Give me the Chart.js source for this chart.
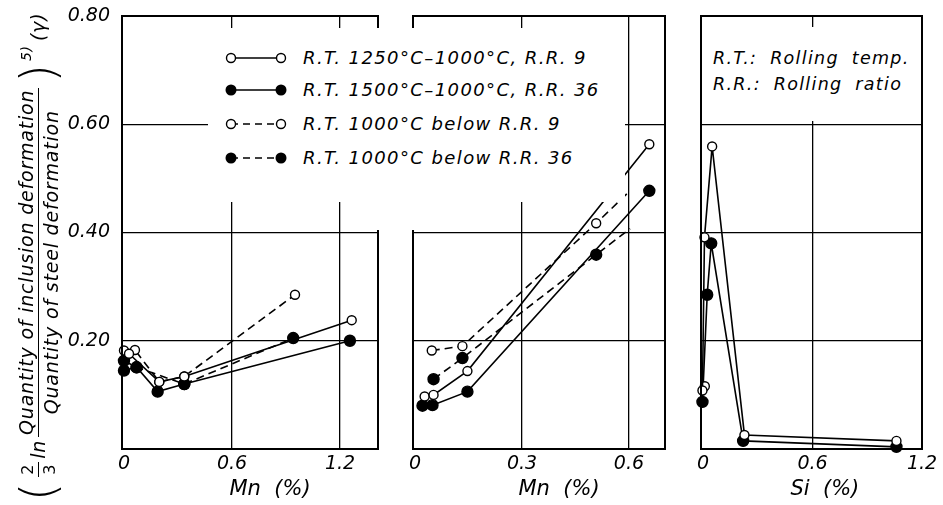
<!DOCTYPE html>
<html>
<head>
<meta charset="utf-8">
<script src="https://cdn.jsdelivr.net/npm/chart.js@4.4.0/dist/chart.umd.min.js"></script>
<style>
body{margin:0;background:#fff;}
#wrap{position:relative;width:943px;height:505px;overflow:hidden;font-family:"DejaVu Sans";font-style:italic;color:#000;}
.pane{position:absolute;top:0;}
.mask{position:absolute;background:#fff;}
.row{position:absolute;height:24px;line-height:24px;white-space:nowrap;font-size:18px;}
.row svg{position:absolute;left:0;top:5px;}
.row span{position:absolute;left:78px;top:0;letter-spacing:1.4px;}
.note{position:absolute;left:10px;font-size:17.5px;letter-spacing:1.3px;word-spacing:6px;white-space:nowrap;}
#ytitle{position:absolute;left:-212px;top:229px;width:500px;height:58px;transform:rotate(-90deg);
  display:flex;align-items:center;justify-content:center;font-size:19px;white-space:nowrap;letter-spacing:0.8px;}
#ytitle .big{font-size:48px;font-style:normal;font-weight:200;line-height:48px;margin:0 2px;}
.frac{display:inline-flex;flex-direction:column;align-items:center;margin:0 3px;}
.frac span:first-child{border-bottom:1.5px solid #000;padding:0 2px 1px;}
.frac span:last-child{padding-top:1px;}
.frac.small{font-size:16px;font-style:normal;}
#ytitle sup{font-size:14px;position:relative;top:-12px;margin-right:4px;}
</style>
</head>
<body>
<div id="wrap">
  <div class="pane" style="left:0px"><canvas id="c1" width="395" height="505"></canvas></div>
  <div class="pane" style="left:395px"><canvas id="c2" width="290" height="505"></canvas></div>
  <div class="pane" style="left:685px"><canvas id="c3" width="258" height="505"></canvas></div>

  <div class="mask" style="left:372px;top:28px;width:48px;height:202px;"></div>
  <div class="mask" style="left:208px;top:28px;width:417px;height:174px;">
    <div class="row" style="left:17px;top:18px;"><svg width="64" height="14"><line x1="6" y1="7" x2="56" y2="7" stroke="#000" stroke-width="1.6"/><circle cx="6" cy="7" r="4.5" fill="#fff" stroke="#000" stroke-width="1.4"/><circle cx="56" cy="7" r="4.5" fill="#fff" stroke="#000" stroke-width="1.4"/></svg><span>R.T. 1250°C–1000°C, R.R. 9</span></div>
    <div class="row" style="left:17px;top:50px;"><svg width="64" height="14"><line x1="6" y1="7" x2="56" y2="7" stroke="#000" stroke-width="1.6"/><circle cx="6" cy="7" r="5.5" fill="#000"/><circle cx="56" cy="7" r="5.5" fill="#000"/></svg><span>R.T. 1500°C–1000°C, R.R. 36</span></div>
    <div class="row" style="left:17px;top:84px;"><svg width="64" height="14"><line x1="6" y1="7" x2="56" y2="7" stroke="#000" stroke-width="1.6" stroke-dasharray="7,5"/><circle cx="6" cy="7" r="4.5" fill="#fff" stroke="#000" stroke-width="1.4"/><circle cx="56" cy="7" r="4.5" fill="#fff" stroke="#000" stroke-width="1.4"/></svg><span>R.T. 1000°C below R.R. 9</span></div>
    <div class="row" style="left:17px;top:118px;"><svg width="64" height="14"><line x1="6" y1="7" x2="56" y2="7" stroke="#000" stroke-width="1.6" stroke-dasharray="7,5"/><circle cx="6" cy="7" r="5.5" fill="#000"/><circle cx="56" cy="7" r="5.5" fill="#000"/></svg><span>R.T. 1000°C below R.R. 36</span></div>
  </div>

  <div class="mask" style="left:703px;top:27px;width:217px;height:94px;">
    <div class="note" style="top:21px;">R.T.: Rolling temp.</div>
    <div class="note" style="top:47px;">R.R.: Rolling ratio</div>
  </div>

  <div id="ytitle">
    <span class="big">(</span>
    <span class="frac small"><span>2</span><span>3</span></span>
    <span>ln</span>
    <span class="frac"><span>Quantity of inclusion deformation</span><span>Quantity of steel deformation</span></span>
    <span class="big">)</span><sup>5)</sup><span>(γ)</span>
  </div>
</div>

<script>
var yTicks=[0.2,0.4,0.6,0.8];
var p1Ticks=[0,0.6,1.2];
var p2Ticks=[0,0.3,0.6];
var p3Ticks=[0,0.6,1.2];

// left panel, Mn (%)
var p1OpenSolidX=[0.028,0.196,0.335,1.265];
var p1OpenSolidY=[0.176,0.124,0.134,0.238];
var p1FullSolidX=[0,0.07,0.187,0.335,1.255];
var p1FullSolidY=[0.145,0.151,0.106,0.12,0.2];
var p1OpenDashX=[0,0.061,0.196,0.335,0.95];
var p1OpenDashY=[0.182,0.183,0.124,0.134,0.285];
var p1FullDashX=[0,0.07,0.335,0.94];
var p1FullDashY=[0.163,0.151,0.12,0.205];

// middle panel, Mn (%)
var p2OpenSolidX=[0.027,0.052,0.147,0.657];
var p2OpenSolidY=[0.097,0.1,0.144,0.563];
var p2FullSolidX=[0.021,0.049,0.147,0.657];
var p2FullSolidY=[0.08,0.081,0.106,0.477];
var p2OpenDashX=[0.047,0.133,0.508,0.603];
var p2OpenDashY=[0.182,0.19,0.417,0.477];
var p2FullDashX=[0.052,0.133,0.508,0.603];
var p2FullDashY=[0.129,0.168,0.359,0.407];

// right panel, Si (%)
var p3OpenSolidX=[-0.003,0.008,0.05,0.227,1.06];
var p3OpenSolidY=[0.108,0.391,0.559,0.026,0.015];
var p3OpenExtraX=[0.01];
var p3OpenExtraY=[0.116];
var p3FullSolidX=[-0.003,0.023,0.045,0.22,1.06];
var p3FullSolidY=[0.087,0.285,0.38,0.015,0.004];

function pts(xs,ys){
  return xs.map(function(x,i){return {x:x,y:ys[i]};});
}

function series(xs,ys,filled,dashed,bareEnd){
  var last=xs.length-1;
  return {
    data:pts(xs,ys),
    showLine:true,
    borderColor:'#000',
    borderWidth:1.6,
    borderDash:dashed?[8,5]:[],
    pointRadius:function(c){return bareEnd&&c.dataIndex===last?0:(filled?5.5:4.5);},
    pointBackgroundColor:filled?'#000':'#fff',
    pointBorderColor:'#000',
    pointBorderWidth:1.4,
    clip:false
  };
}

var frame={
  id:'frame',
  afterDraw:function(chart){
    var a=chart.chartArea, ctx=chart.ctx;
    ctx.save();
    ctx.strokeStyle='#000';
    ctx.lineWidth=2;
    ctx.strokeRect(a.left,a.top,a.right-a.left,a.bottom-a.top);
    ctx.restore();
  }
};

var tickFont={family:'DejaVu Sans',style:'italic',size:19};
var titleFont={family:'DejaVu Sans',style:'italic',size:21};

function panel(id,xMin,xMax,xTicks,xTitle,datasets,padL,padR,showY){
  new Chart(document.getElementById(id),{
    type:'scatter',
    data:{datasets:datasets},
    plugins:[frame],
    options:{
      responsive:false,
      animation:false,
      layout:{padding:{top:16,right:padR,left:0,bottom:0}},
      plugins:{legend:{display:false},tooltip:{enabled:false}},
      scales:{
        x:{
          type:'linear',min:xMin,max:xMax,
          afterBuildTicks:function(s){s.ticks=xTicks.map(function(v){return {value:v};});},
          afterFit:function(s){s.height=56;s.paddingLeft=0;s.paddingRight=0;},
          grid:{color:function(c){return c.tick&&c.tick.value===0?'rgba(0,0,0,0)':'#000';},lineWidth:1.3,drawTicks:false},
          border:{display:true,color:'#000',width:2},
          ticks:{color:'#000',font:tickFont,padding:4,maxRotation:0,callback:function(v){return String(v);}},
          title:{display:true,text:xTitle,color:'#000',font:titleFont,padding:{top:0,bottom:3}}
        },
        y:{
          type:'linear',min:0,max:0.8,
          afterBuildTicks:function(s){s.ticks=yTicks.map(function(v){return {value:v};});},
          afterFit:function(s){s.width=padL;s.paddingTop=0;s.paddingBottom=0;},
          grid:{color:'#000',lineWidth:1.3,drawTicks:false},
          border:{display:true,color:'#000',width:2},
          ticks:{display:showY,color:'#000',font:tickFont,padding:12,callback:function(v){return v.toFixed(2);}}
        }
      }
    }
  });
}

panel('c1',-0.011,1.411,p1Ticks,'      Mn  (%)',[
  series(p1OpenSolidX,p1OpenSolidY,false,false),
  series(p1FullSolidX,p1FullSolidY,true,false),
  series(p1OpenDashX,p1OpenDashY,false,true),
  series(p1FullDashX,p1FullDashY,true,true)
],122,17,true);

panel('c2',-0.0056,0.701,p2Ticks,'      Mn  (%)',[
  series(p2OpenSolidX,p2OpenSolidY,false,false),
  series(p2FullSolidX,p2FullSolidY,true,false),
  series(p2OpenDashX,p2OpenDashY,false,true,true),
  series(p2FullDashX,p2FullDashY,true,true,true)
],18,20,false);

panel('c3',-0.011,1.2,p3Ticks,'    Si  (%)',[
  series(p3OpenSolidX,p3OpenSolidY,false,false),
  series(p3OpenExtraX,p3OpenExtraY,false,false),
  series(p3FullSolidX,p3FullSolidY,true,false)
],16,21,false);
</script>
</body>
</html>
